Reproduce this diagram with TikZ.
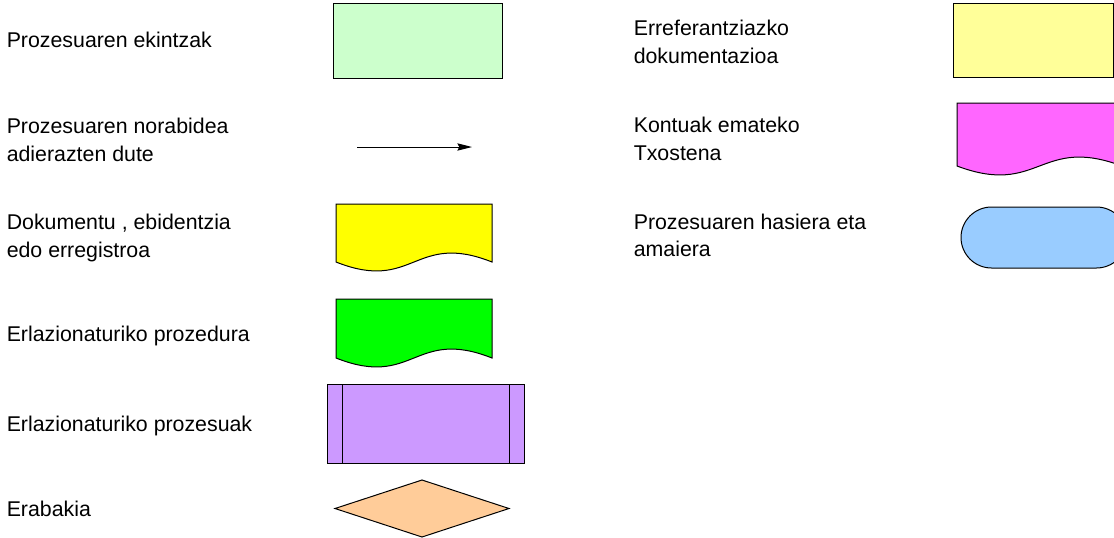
\documentclass[tikz,border=0pt]{standalone}
\usepackage{fontspec}
\setmainfont{Liberation Sans}
\usetikzlibrary{arrows.meta}
\definecolor{ekintza}{HTML}{CCFFCC}
\definecolor{erref}{HTML}{FFFF99}
\definecolor{dokum}{HTML}{FFFF00}
\definecolor{prozedura}{HTML}{00FF00}
\definecolor{prozesu}{HTML}{CC99FF}
\definecolor{erabaki}{HTML}{FFCC99}
\definecolor{txosten}{HTML}{FF66FF}
\definecolor{hasiera}{HTML}{99CCFF}
\tikzset{
  legendtxt/.style={anchor=base west, inner sep=0pt, align=left,
    font=\fontsize{16}{20.6}\selectfont},
  shapeline/.style={draw=black, line width=0.75pt}
}
% document shape: fill, left, right, top, bottom
\newcommand{\docshape}[5]{%
  \draw[shapeline, fill=#1] (#2,#4) -- (#2,#5)
    .. controls ({(#2+#3)/2},{#5+31}) and ({(#2+#3)/2},{#5-31}) .. (#3,#5)
    -- (#3,#4) -- cycle;}
\begin{document}
\begin{tikzpicture}[x=0.75pt, y=-0.75pt]
    \clip (0,0) rectangle (1114,537);
    % labels (y = baseline of the last line)
    \foreach \i/\x/\y/\t in {1/6.5/47.3/{Prozesuaren ekintzak},
        2/6.5/161/{Prozesuaren norabidea\\adierazten dute},
        3/6.5/257/{Dokumentu , ebidentzia\\edo erregistroa},
        4/6.5/341.7/{Erlazionaturiko prozedura},
        5/6.5/431.7/{Erlazionaturiko prozesuak},
        6/6.5/516.7/{Erabakia},
        7/633.5/63.3/{Erreferantziazko\\dokumentazioa},
        8/633.5/160/{Kontuak emateko\\Txostena},
        9/633.5/256.7/{Prozesuaren hasiera eta\\amaiera}}
        \node[legendtxt] (lbl\i) at (\x,\y) {\t};
    % left column
    \draw[shapeline, fill=ekintza] (333,3) rectangle (502,78);
    \coordinate (norA) at (357,147);
    \coordinate (norB) at (472,147);
    \draw[line width=0.75pt, -{Stealth[length=11pt, width=5.5pt, inset=1.5pt]}] (norA) -- (norB);
    \docshape{dokum}{336}{492}{204}{262}
    \docshape{prozedura}{336}{492}{299}{358}
    \draw[shapeline, fill=prozesu] (327,384) rectangle (524,463);
    \draw[shapeline] (342.5,384) -- (342.5,463) (509,384) -- (509,463);
    \draw[shapeline, fill=erabaki] (335,508.5) -- (422,480) -- (509,508.5) -- (422,537) -- cycle;
    % right column
    \draw[shapeline, fill=erref] (953,3) rectangle (1113,77);
    \docshape{txosten}{957}{1122}{103}{166}
    \draw[shapeline, fill=hasiera, rounded corners=22.9pt] (961,207) rectangle (1127,268);
\end{tikzpicture}
\end{document}
